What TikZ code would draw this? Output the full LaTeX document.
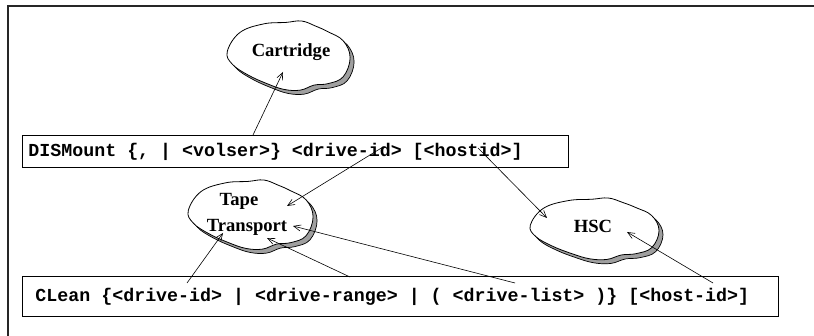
\documentclass[tikz,border=0pt]{standalone}
\usepackage{fontspec}
\setmainfont{Liberation Serif}
\setmonofont{Liberation Mono}
\usetikzlibrary{arrows.meta}

% cloud outline in unit coordinates (y grows downward)
\newcommand{\cloudpath}{plot[smooth cycle, tension=0.65] coordinates {
  (-0.98,-0.15) (-0.78,-0.68) (-0.40,-0.92) (-0.05,-0.96) (0.20,-1.0)
  (0.42,-0.86) (0.62,-0.70) (0.86,-0.45) (0.97,0.02) (0.86,0.55)
  (0.62,0.74) (0.40,0.78) (0.18,0.92) (-0.08,0.90) (-0.35,0.74)
  (-0.65,0.50) (-0.90,0.20)}}
% cloud with a grey drop shadow: centre, half width, half height
\newcommand{\drawcloud}[3]{%
  \begin{scope}[shift={(#1)}]
    \begin{scope}[shift={(4,4)}, xscale=#2, yscale=#3]
      \filldraw[fill=gray!75, draw=black, line width=0.7pt] \cloudpath;
    \end{scope}
    \begin{scope}[xscale=#2, yscale=#3]
      \filldraw[fill=white, draw=black, line width=0.8pt] \cloudpath;
    \end{scope}
  \end{scope}}
% fixed-width word spaces for the command syntax
\newcommand{\cmdspacing}{\spaceskip=0.6em\relax}

\begin{document}
\begin{tikzpicture}[x=1pt, y=-1pt,
  cmdbox/.style={draw, line width=0.9pt, anchor=north west, align=left,
    font=\fontsize{18.3}{22}\selectfont\ttfamily\bfseries},
  cloudtext/.style={font=\fontsize{18.6}{22}\selectfont\bfseries, inner sep=0pt},
  link/.style={line width=0.6pt, -{Straight Barb[length=7pt, width=6pt]}}]
\useasboundingbox (0,0) rectangle (814,336);

% frame
\draw[line width=1.4pt, black!85] (814,6) -- (8,6) -- (8,336);

% clouds
\drawcloud{289,57}{63}{36}
\drawcloud{251,216}{64}{36}
\drawcloud{595,230}{66}{32}

\node[cloudtext] (cart) at (291,52) {Cartridge};
\node[cloudtext] (tape) at (239,201) {Tape};
\node[cloudtext] (transport) at (247,227) {Transport};
\node[cloudtext] (hsc) at (593,226) {HSC};

% command boxes
\node[cmdbox, minimum height=32pt, inner xsep=6pt, text width=534pt] (dism) at (22,135)
  {\cmdspacing DISMount \{, | <volser>\} <drive-id> [<hostid>]};
\node[cmdbox, minimum height=40pt, inner xsep=13pt, text width=730pt] (clean) at (22,276)
  {\cmdspacing CLean \{<drive-id> | <drive-range> | ( <drive-list> )\} [<host-id>]};

% connector end points
\coordinate (dtop) at (253,135);
\coordinate (ddrive) at (383,147);
\coordinate (dhost) at (478,148);
\coordinate (cdrive) at (187,283);
\coordinate (crange) at (350,277);
\coordinate (clist) at (515,283);
\coordinate (chost) at (713,283);

\coordinate (cartin) at (283,72);
\coordinate (tapein) at (287,206);
\coordinate (tapelow) at (223,233);
\coordinate (tapemid) at (267,238);
\coordinate (taperight) at (293,226);
\coordinate (hscin) at (547,218);
\coordinate (hscright) at (627,232);

% connectors
\draw[link] (dtop) -- (cartin);
\draw[link] (ddrive) -- (tapein);
\draw[link] (dhost) -- (hscin);
\draw[link] (cdrive) -- (tapelow);
\draw[link] (crange) -- (tapemid);
\draw[link] (clist) -- (taperight);
\draw[link] (chost) -- (hscright);
\end{tikzpicture}
\end{document}
